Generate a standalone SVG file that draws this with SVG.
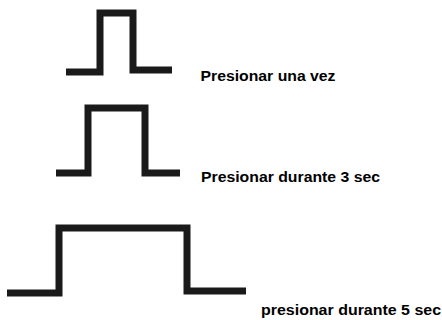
<svg xmlns="http://www.w3.org/2000/svg" width="442" height="320" viewBox="0 0 442 320">
<style>
.sig{fill:none;stroke:#1a1a1a;stroke-width:7;stroke-linejoin:miter;stroke-linecap:butt}
.lbl{font-family:"Liberation Sans",Arial,sans-serif;font-weight:bold;font-size:14.5px;fill:#000}
</style>
<rect width="442" height="320" fill="#fff"/>
<g id="pulse1">
<path class="sig" d="M66 72 H100 V13 H133 V70 H172"/>
<text class="lbl" x="200.5" y="81" textLength="135" lengthAdjust="spacingAndGlyphs">Presionar una vez</text>
</g>
<g id="pulse2">
<path class="sig" d="M56 173 H88 V108 H145 V173 H180"/>
<text class="lbl" x="201" y="182" textLength="179" lengthAdjust="spacingAndGlyphs">Presionar durante 3 sec</text>
</g>
<g id="pulse3">
<path class="sig" d="M7 293 H59 V228 H187 V291 H246"/>
<text class="lbl" x="261" y="315" textLength="180" lengthAdjust="spacingAndGlyphs">presionar durante 5 sec</text>
</g>
</svg>
